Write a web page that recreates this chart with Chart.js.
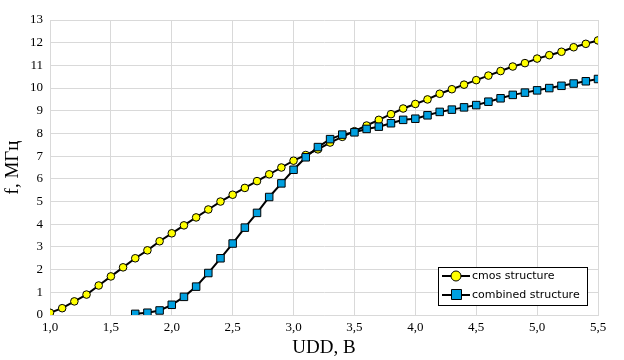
<!DOCTYPE html>
<html lang="ru">
<head>
    <meta charset="UTF-8">
    <title>f(UDD)</title>
    <script src="https://cdn.jsdelivr.net/npm/chart.js"></script>
    <style>
        html, body { margin: 0; padding: 0; background: #fff; }
        #wrap { width: 624px; height: 360px; }
    </style>
</head>
<body>
<div id="wrap"><canvas id="myChart"></canvas></div>
<script>
    // UDD, B  (step 0.1)
    const cmosX = [1.0, 1.1, 1.2, 1.3, 1.4, 1.5, 1.6, 1.7, 1.8, 1.9, 2.0, 2.1, 2.2, 2.3, 2.4, 2.5, 2.6, 2.7, 2.8, 2.9,
        3.0, 3.1, 3.2, 3.3, 3.4, 3.5, 3.6, 3.7, 3.8, 3.9, 4.0, 4.1, 4.2, 4.3, 4.4, 4.5, 4.6, 4.7, 4.8, 4.9,
        5.0, 5.1, 5.2, 5.3, 5.4, 5.5];
    const cmosF = [0.1, 0.3, 0.6, 0.9, 1.3, 1.7, 2.1, 2.5, 2.85, 3.25, 3.6, 3.95, 4.3, 4.65, 5.0, 5.3, 5.6, 5.9, 6.2, 6.5,
        6.8, 7.05, 7.3, 7.6, 7.85, 8.1, 8.35, 8.6, 8.85, 9.1, 9.3, 9.5, 9.75, 9.95, 10.15, 10.35, 10.55, 10.75, 10.95, 11.1,
        11.3, 11.45, 11.6, 11.8, 11.95, 12.1];

    const combX = [1.7, 1.8, 1.9, 2.0, 2.1, 2.2, 2.3, 2.4, 2.5, 2.6, 2.7, 2.8, 2.9,
        3.0, 3.1, 3.2, 3.3, 3.4, 3.5, 3.6, 3.7, 3.8, 3.9, 4.0, 4.1, 4.2, 4.3, 4.4, 4.5, 4.6, 4.7, 4.8, 4.9,
        5.0, 5.1, 5.2, 5.3, 5.4, 5.5];
    const combF = [0.05, 0.1, 0.2, 0.45, 0.8, 1.25, 1.85, 2.5, 3.15, 3.85, 4.5, 5.2, 5.8,
        6.4, 6.95, 7.4, 7.75, 7.95, 8.05, 8.2, 8.3, 8.45, 8.6, 8.65, 8.8, 8.95, 9.05, 9.15, 9.25, 9.4, 9.55, 9.7, 9.8,
        9.9, 10.0, 10.1, 10.2, 10.3, 10.4];

    const seriesNames = ['cmos structure', 'combined structure'];
    const xTitle = 'UDD, B';
    const yTitle = 'f, МГц';

    const toPts = (xs, ys) => xs.map((x, i) => ({x: x, y: ys[i]}));

    // legend box in the lower right corner, line through the marker like the original
    const boxLegend = {
        id: 'boxLegend',
        afterDraw(chart) {
            const ctx = chart.ctx;
            const x0 = 438, y0 = 267, w = 149, h = 38;
            ctx.save();
            ctx.fillStyle = '#fff';
            ctx.fillRect(x0, y0, w, h);
            ctx.strokeStyle = '#000';
            ctx.lineWidth = 1;
            ctx.strokeRect(x0 + 0.5, y0 + 0.5, w, h);
            chart.data.datasets.forEach((ds, i) => {
                const cy = y0 + 9 + i * 19;
                ctx.strokeStyle = '#000';
                ctx.lineWidth = 2;
                ctx.beginPath();
                ctx.moveTo(x0 + 4, cy);
                ctx.lineTo(x0 + 32, cy);
                ctx.stroke();
                ctx.fillStyle = ds.pointBackgroundColor;
                ctx.lineWidth = 1;
                ctx.beginPath();
                if (ds.pointStyle === 'circle') {
                    ctx.arc(x0 + 18, cy, 5, 0, Math.PI * 2);
                } else {
                    ctx.rect(x0 + 13.5, cy - 5.5, 10, 10);
                }
                ctx.fill();
                ctx.stroke();
                ctx.fillStyle = '#000';
                ctx.font = '11px "DejaVu Sans"';
                ctx.textBaseline = 'middle';
                ctx.fillText(ds.label, x0 + 34, cy);
            });
            ctx.restore();
        }
    };

    const ctx = document.getElementById('myChart').getContext('2d');
    new Chart(ctx, {
        type: 'line',
        data: {
            datasets: [{
                label: seriesNames[0],
                data: toPts(cmosX, cmosF),
                order: 1,
                borderColor: '#000',
                borderWidth: 2,
                pointStyle: 'circle',
                pointRadius: 3.8,
                pointBackgroundColor: '#ffff00',
                pointBorderColor: '#000',
                pointBorderWidth: 1
            }, {
                label: seriesNames[1],
                data: toPts(combX, combF),
                order: 0,
                borderColor: '#000',
                borderWidth: 2,
                pointStyle: 'rect',
                pointRadius: 5.3,
                pointBackgroundColor: '#00a0e0',
                pointBorderColor: '#000',
                pointBorderWidth: 1
            }]
        },
        options: {
            responsive: true,
            maintainAspectRatio: false,
            animation: false,
            layout: {padding: {left: 0, right: 26, top: 20, bottom: 0}},
            plugins: {
                legend: {display: false},
                tooltip: {enabled: false}
            },
            scales: {
                x: {
                    type: 'linear',
                    min: 1.0,
                    max: 5.5,
                    afterFit: s => { s.height = 45; },
                    grid: {color: '#d9d9d9', drawTicks: false},
                    border: {color: '#d9d9d9'},
                    ticks: {
                        stepSize: 0.5,
                        padding: 5,
                        color: '#000',
                        font: {family: '"Liberation Serif"', size: 13},
                        callback: v => v.toFixed(1).replace('.', ',')
                    },
                    title: {
                        display: true,
                        text: xTitle,
                        color: '#000',
                        font: {family: '"Liberation Serif"', size: 19},
                        padding: {top: 0, bottom: 1}
                    }
                },
                y: {
                    min: 0,
                    max: 13,
                    afterFit: s => { s.width = 50; },
                    grid: {color: '#d9d9d9', drawTicks: false},
                    border: {color: '#d9d9d9'},
                    ticks: {
                        stepSize: 1,
                        padding: 7,
                        color: '#000',
                        font: {family: '"Liberation Serif"', size: 13}
                    },
                    title: {
                        display: true,
                        text: yTitle,
                        color: '#000',
                        font: {family: '"Liberation Serif"', size: 19},
                        padding: {top: 2, bottom: 0}
                    }
                }
            }
        },
        plugins: [boxLegend]
    });
</script>
</body>
</html>
